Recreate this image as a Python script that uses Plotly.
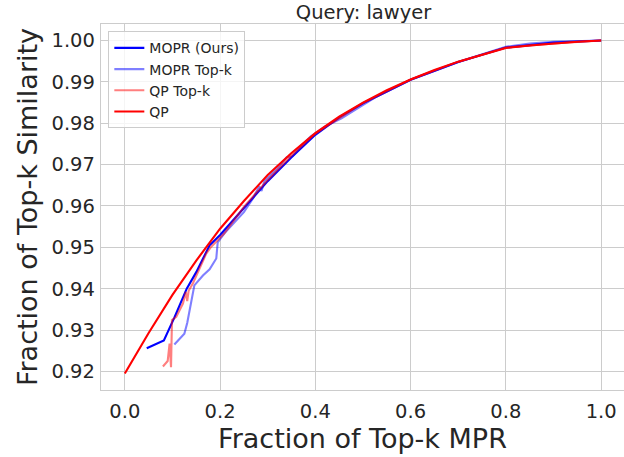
import plotly.graph_objects as go

# ---- data ----
qp_x = [0.0, 0.05, 0.1, 0.15, 0.2, 0.25, 0.3, 0.35, 0.4, 0.45, 0.5, 0.55, 0.6, 0.65, 0.7, 0.75, 0.8, 0.85, 0.9, 0.95, 1.0]
qp_y = [0.9195, 0.9293, 0.9385, 0.9468, 0.9545, 0.9612, 0.9675, 0.9728, 0.9776, 0.9816, 0.9850, 0.9880, 0.9906, 0.9929, 0.9949, 0.9966, 0.9982, 0.9988, 0.9993, 0.9997, 1.0]

mopr_x = [0.046, 0.082, 0.104, 0.118, 0.13, 0.15, 0.165, 0.178, 0.2, 0.25, 0.3, 0.35, 0.4, 0.45, 0.5, 0.6, 0.7, 0.8, 0.9, 1.0]
mopr_y = [0.9256, 0.9275, 0.9330, 0.9370, 0.9400, 0.9440, 0.9475, 0.9505, 0.9530, 0.9595, 0.9660, 0.9718, 0.9772, 0.9814, 0.9848, 0.9905, 0.9948, 0.9983, 0.9995, 1.0]

mopr_topk_x = [0.104, 0.125, 0.131, 0.140, 0.146, 0.164, 0.178, 0.192, 0.195, 0.209, 0.25, 0.27, 0.282, 0.287, 0.293, 0.32, 0.34, 0.352, 0.37, 0.39, 0.42, 0.455, 0.5, 0.525, 0.6, 0.7, 0.8, 0.85, 0.9, 1.0]
mopr_topk_y = [0.9265, 0.9291, 0.9317, 0.9375, 0.9408, 0.9432, 0.9447, 0.9473, 0.9512, 0.9534, 0.9585, 0.9620, 0.9648, 0.9636, 0.9660, 0.9690, 0.9718, 0.9720, 0.9745, 0.9768, 0.9792, 0.9812, 0.9845, 0.9862, 0.9905, 0.9948, 0.9985, 0.9993, 0.9997, 1.0]

qp_topk_x = [0.080, 0.090, 0.094, 0.097, 0.099, 0.108, 0.122, 0.128, 0.131, 0.134, 0.143, 0.155, 0.171, 0.181, 0.209, 0.25, 0.3, 0.35, 0.4, 0.5, 0.6, 0.7, 0.8, 0.9, 1.0]
qp_topk_y = [0.9212, 0.9225, 0.9267, 0.9210, 0.9324, 0.9332, 0.9364, 0.9392, 0.9370, 0.9395, 0.9413, 0.9445, 0.9485, 0.9501, 0.9534, 0.9598, 0.9663, 0.9722, 0.9775, 0.9849, 0.9906, 0.9949, 0.9983, 0.9993, 1.0]

x_ticks = [0.0, 0.2, 0.4, 0.6, 0.8, 1.0]
y_ticks = [0.92, 0.93, 0.94, 0.95, 0.96, 0.97, 0.98, 0.99, 1.00]

FONT = "DejaVu Sans"
TXT = "#262626"
GRID = "#cccccc"

fig = go.Figure()
fig.add_trace(go.Scatter(x=mopr_x, y=mopr_y, mode="lines", name="MOPR (Ours)",
                         line=dict(color="rgb(0,0,255)", width=2.1)))
fig.add_trace(go.Scatter(x=mopr_topk_x, y=mopr_topk_y, mode="lines", name="MOPR Top-k",
                         line=dict(color="rgba(0,0,255,0.5)", width=2.1)))
fig.add_trace(go.Scatter(x=qp_topk_x, y=qp_topk_y, mode="lines", name="QP Top-k",
                         line=dict(color="rgba(255,0,0,0.5)", width=2.1)))
fig.add_trace(go.Scatter(x=qp_x, y=qp_y, mode="lines", name="QP",
                         line=dict(color="rgb(255,0,0)", width=2.1)))

fig.update_layout(
    width=624, height=457,
    margin=dict(l=101, r=0, t=24, b=67),
    paper_bgcolor="white", plot_bgcolor="white",
    font=dict(family=FONT, color=TXT),
    title=dict(text="Query: lawyer", x=0.502, xref="paper", xanchor="center",
               y=1 - 12 / 457, yref="container", yanchor="middle",
               font=dict(size=19.5, color=TXT, family=FONT)),
    showlegend=True,
    legend=dict(x=0.014, y=0.98, xanchor="left", yanchor="top",
                bgcolor="rgba(255,255,255,0.8)", bordercolor=GRID, borderwidth=1,
                font=dict(size=14, color=TXT, family=FONT),
                tracegroupgap=0, itemwidth=30),
)
fig.update_xaxes(
    range=[-0.05, 1.048], tickvals=x_ticks, ticktext=[f"{v:.1f}" for v in x_ticks],
    showgrid=True, gridcolor=GRID, gridwidth=1.4, zeroline=False,
    showline=True, linecolor=GRID, linewidth=1.4, mirror=True,
    ticks="", tickfont=dict(size=19.5, color=TXT, family=FONT), ticklabelstandoff=3,
    title=dict(text="Fraction of Top-k MPR", font=dict(size=27, color=TXT, family=FONT), standoff=3),
)
fig.update_yaxes(
    range=[0.9155, 1.004], tickvals=y_ticks, ticktext=[f"{v:.2f}" for v in y_ticks],
    showgrid=True, gridcolor=GRID, gridwidth=1.4, zeroline=False,
    showline=True, linecolor=GRID, linewidth=1.4, mirror=False,
    ticks="", tickfont=dict(size=19.5, color=TXT, family=FONT), ticklabelstandoff=1,
    title=dict(text="Fraction of Top-k Similarity", font=dict(size=27, color=TXT, family=FONT), standoff=6),
)

fig.write_html("out.html")
